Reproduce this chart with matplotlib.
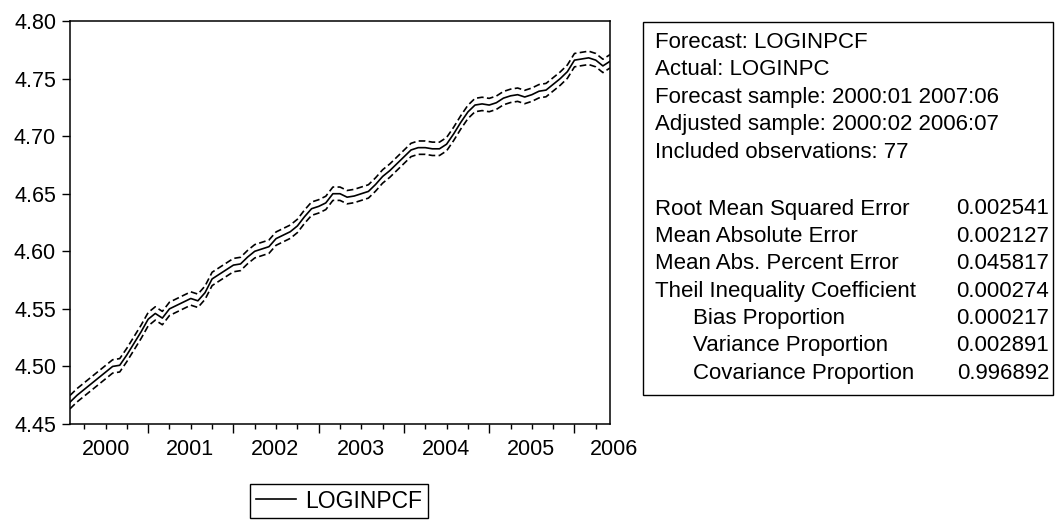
import numpy as np
import matplotlib.pyplot as plt
from matplotlib.patches import Rectangle
import matplotlib.transforms as mtransforms

plt.rcParams['font.family'] = ['Liberation Sans', 'DejaVu Sans']

# LOGINPCF forecast, monthly 2000:02 .. 2006:07 (77 obs)
loginpcf = [4.469, 4.475, 4.480, 4.485, 4.490, 4.495, 4.500, 4.501, 4.510, 4.520,
            4.530, 4.541, 4.546, 4.542, 4.550, 4.553, 4.556, 4.559, 4.557, 4.564,
            4.576, 4.580, 4.584, 4.588, 4.589, 4.595, 4.600, 4.602, 4.604, 4.611,
            4.614, 4.617, 4.622, 4.630, 4.637, 4.639, 4.642, 4.650, 4.650, 4.647,
            4.648, 4.650, 4.652, 4.658, 4.665, 4.670, 4.676, 4.682, 4.688, 4.690,
            4.690, 4.689, 4.689, 4.693, 4.702, 4.712, 4.721, 4.727, 4.728, 4.727,
            4.729, 4.733, 4.735, 4.736, 4.734, 4.736, 4.739, 4.740, 4.745, 4.750,
            4.756, 4.766, 4.767, 4.768, 4.766, 4.761, 4.765]
forecast_se = 0.0029  # band is +/- 2 S.E.

years = ['2000', '2001', '2002', '2003', '2004', '2005', '2006']
year_label_pos = [5.1, 16.9, 28.9, 40.9, 52.9, 64.9, 76.5]  # month index
year_start = [11, 23, 35, 47, 59, 71]  # January positions (index 0 = 2000:02)
y_ticks = [4.45, 4.50, 4.55, 4.60, 4.65, 4.70, 4.75, 4.80]

header_lines = ['Forecast: LOGINPCF', 'Actual: LOGINPC',
                'Forecast sample: 2000:01 2007:06',
                'Adjusted sample: 2000:02 2006:07',
                'Included observations: 77']
stat_names = ['Root Mean Squared Error', 'Mean Absolute Error',
              'Mean Abs. Percent Error', 'Theil Inequality Coefficient',
              'Bias Proportion', 'Variance Proportion', 'Covariance Proportion']
stat_values = ['0.002541', '0.002127', '0.045817', '0.000274',
               '0.000217', '0.002891', '0.996892']
stat_indent = [False, False, False, False, True, True, True]

W, H = 1055, 521
fig = plt.figure(figsize=(W / 100, H / 100), dpi=100)
ax = fig.add_axes([70 / W, 1 - 424 / H, (610 - 70) / W, (424 - 21) / H])

x = np.arange(len(loginpcf))
y = np.array(loginpcf)
line, = ax.plot(x, y, c='k', lw=1.2, label='LOGINPCF')
ax.plot(x, y + 2 * forecast_se, c='k', lw=1.2, dashes=[4, 2])
ax.plot(x, y - 2 * forecast_se, c='k', lw=1.2, dashes=[4, 2])

ax.set_xlim(0, len(loginpcf) - 1)
ax.set_ylim(4.45, 4.80)
ax.set_yticks(y_ticks)
ax.set_yticklabels(['{:.2f}'.format(v) for v in y_ticks])
ax.set_xticks(year_start)
ax.set_xticklabels([])
ax.set_xticks([i for i in range(2, 77, 3) if i not in year_start], minor=True)
ax.tick_params(axis='y', direction='out', length=6, width=1, labelsize=15.5, pad=4)
ax.tick_params(axis='x', which='major', direction='out', length=6.5, width=1)
ax.tick_params(axis='x', which='minor', direction='out', length=3.8, width=1)
for s in ax.spines.values():
    s.set_linewidth(1.1)

trans = mtransforms.blended_transform_factory(ax.transData, ax.transAxes)
for lab, pos in zip(years, year_label_pos):
    ax.text(pos, -0.063, lab, transform=trans, ha='center', va='center',
            fontsize=15.5)

fig.legend(handles=[line], loc='center', bbox_to_anchor=(339 / W, 1 - 501 / H),
           fontsize=16.5, frameon=True, fancybox=False, edgecolor='k',
           framealpha=1, handlelength=1.75, handletextpad=0.4, borderpad=0.25)
fig.legends[0].get_frame().set_linewidth(1)

# statistics box
fig.patches.append(Rectangle((643 / W, 1 - 395 / H), (1053 - 643) / W,
                             (395 - 22) / H, transform=fig.transFigure,
                             fill=False, ec='k', lw=1))
row_y = 42.3
for txt in header_lines:
    fig.text(655 / W, 1 - row_y / H, txt, ha='left', va='center', fontsize=16)
    row_y += 27.5
row_y = 209
for name, val, ind in zip(stat_names, stat_values, stat_indent):
    fig.text((693 if ind else 655) / W, 1 - row_y / H, name, ha='left',
             va='center', fontsize=16)
    fig.text(1049 / W, 1 - row_y / H, val, ha='right', va='center', fontsize=16)
    row_y += 27.4

fig.savefig('out.png', dpi=100)
